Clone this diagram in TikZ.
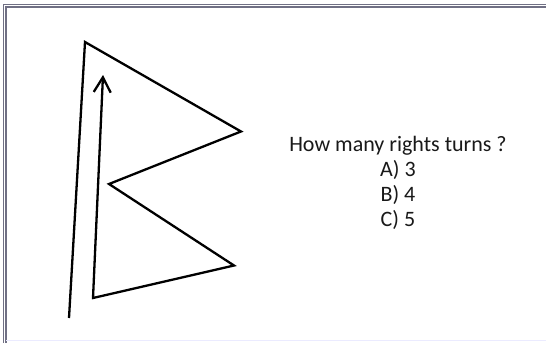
\documentclass[tikz,border=0pt]{standalone}
\usepackage{fontspec}
\setmainfont{Carlito}
\usetikzlibrary{arrows.meta}
\definecolor{framegray}{RGB}{112,112,132}
\tikzset{
  shape line/.style={line width=2.3pt, line join=miter, black},
  qtext/.style={anchor=base, inner sep=0pt, font=\fontsize{22}{26}\selectfont, text=black!90},
  frame line/.style={line width=1.2pt, color=framegray}
}
\begin{document}
\begin{tikzpicture}[x=1pt,y=-1pt]
\useasboundingbox (0,0) rectangle (546,343);
\fill[white] (0,0) rectangle (546,343);
% frame
\draw[frame line] (3.5,343) -- (3.5,4.5) -- (546,4.5);
\draw[frame line] (6,343) -- (6,7) -- (546,7);
\draw[line width=1pt, color=blue!8] (6,340.5) -- (546,340.5);
% figure
\coordinate (start) at (69,318);
\coordinate (top) at (85,42);
\coordinate (r1) at (241,131.5);
\coordinate (mid) at (109,184);
\coordinate (r2) at (234,265.5);
\coordinate (bl) at (93,298);
\coordinate (tip) at (103,75);
\draw[shape line, -{Straight Barb[length=15pt, width=17pt, line width=2.3pt]}]
  (start) -- (top) -- (r1) -- (mid) -- (r2) -- (bl) -- (tip);
% text
\node[qtext] (q) at (398,151) {How many rights turns ?};
\node[qtext] (a) at (398,176) {A) 3};
\node[qtext] (b) at (398,201) {B) 4};
\node[qtext] (c) at (398,226) {C) 5};
\end{tikzpicture}
\end{document}
